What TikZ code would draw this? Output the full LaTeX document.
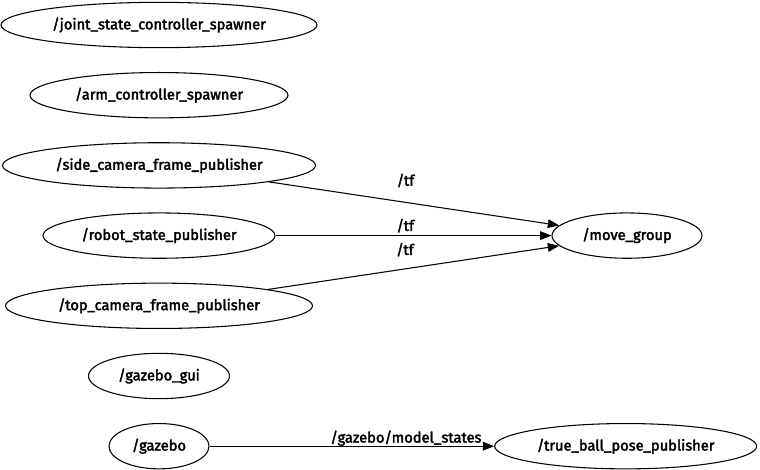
\documentclass[tikz,border=0pt]{standalone}
\usepackage{fontspec}
\setmainfont{Fira Sans}
\newfontfamily\rosfont{Fira Sans}[FakeBold=2.5]
\usetikzlibrary{arrows.meta, positioning, shapes.geometric}

\begin{document}
\begin{tikzpicture}[
  x=0.75pt, y=-0.75pt,
  node distance=52.65pt,
  rosnode/.style={ellipse, draw=black, line width=0.8pt, inner sep=0pt, minimum height=34pt, font=\rosfont\fontsize{11}{12}\selectfont},
  lbl/.style={inner sep=0pt, font=\rosfont\fontsize{11}{12}\selectfont},
  arrow/.style={line width=0.8pt, -{Triangle[length=8.5pt, width=6.5pt]}}
]
\useasboundingbox (0,0) rectangle (760,470);

% left column of ROS nodes
\node[rosnode, minimum width=237pt] (jscs) at (159,25) {/joint\_state\_controller\_spawner};
\node[rosnode, below of=jscs, minimum width=193.5pt] (acs) {/arm\_controller\_spawner};
\node[rosnode, below of=acs, minimum width=234.75pt] (scfp) {/side\_camera\_frame\_publisher};
\node[rosnode, below of=scfp, minimum width=174pt] (rsp) {/robot\_state\_publisher};
\node[rosnode, below of=rsp, minimum width=230.25pt] (tcfp) {/top\_camera\_frame\_publisher};
\node[rosnode, below of=tcfp, minimum width=105.75pt] (gui) {/gazebo\_gui};
\node[rosnode, below of=gui, minimum width=75pt] (gazebo) {/gazebo};

% subscribers
\node[rosnode, right of=rsp, node distance=351pt, minimum width=112.5pt] (mg) {/move\_group};
\node[rosnode, right of=gazebo, node distance=350pt, minimum width=196.5pt] (tbpp) {/true\_ball\_pose\_publisher};

\draw[arrow] (scfp) -- node[lbl, pos=0.47, above=11pt] {/tf} (mg);
\draw[arrow] (rsp) -- node[lbl, pos=0.47, above=2pt] {/tf} (mg);
\draw[arrow] (tcfp) -- node[lbl, pos=0.47, above=9pt] {/tf} (mg);
\draw[arrow] (gazebo) -- node[lbl, pos=0.69, above=0pt] {/gazebo/model\_states} (tbpp);
\end{tikzpicture}
\end{document}
